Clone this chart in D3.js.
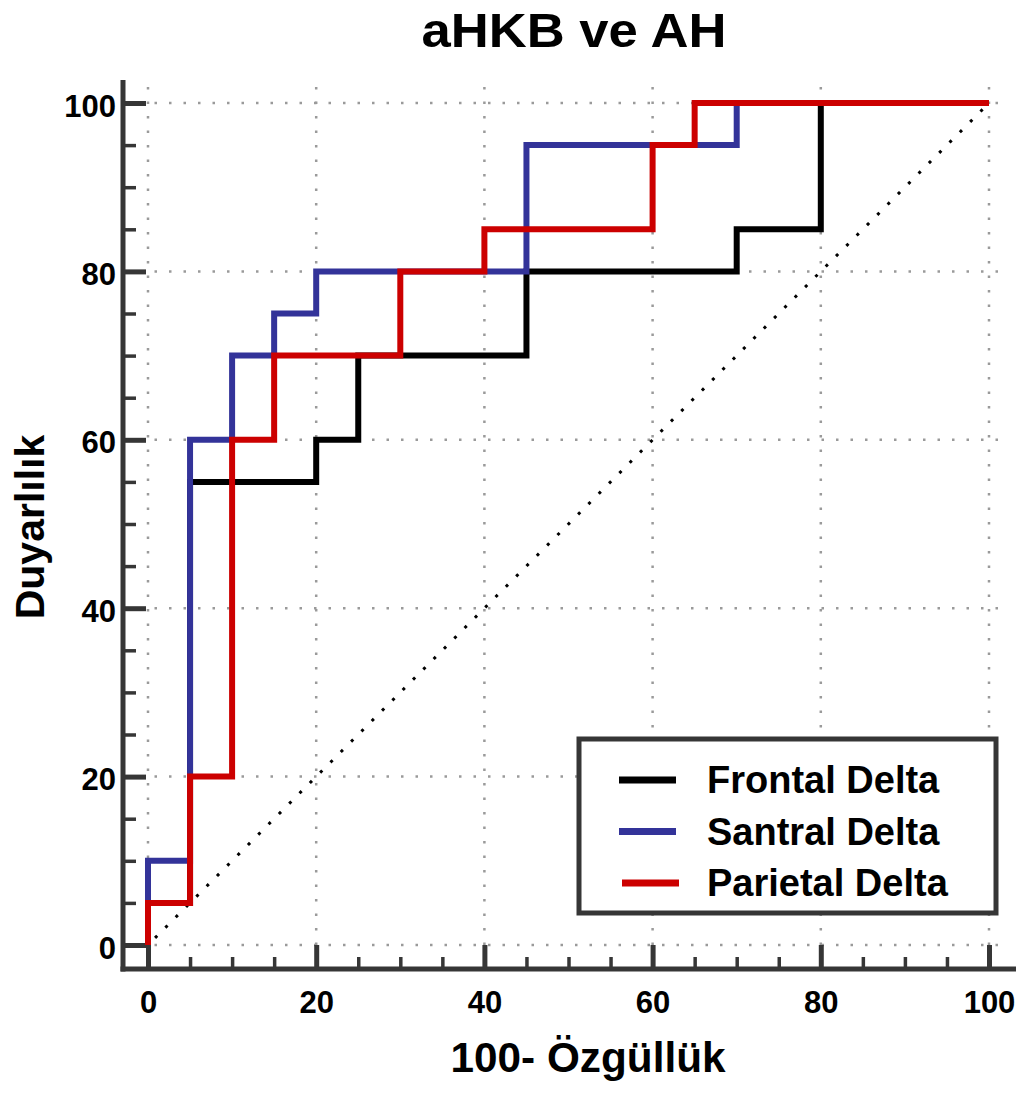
<!DOCTYPE html>
<html>
<head>
<meta charset="utf-8">
<script src="https://cdn.jsdelivr.net/npm/d3@7"></script>
<style>
  html, body { margin: 0; padding: 0; background: #fff; }
  svg { display: block; font-family: "Liberation Sans", Arial, Helvetica, sans-serif; }
</style>
</head>
<body>
<svg id="chart" width="1026" height="1093"></svg>
<script>
// ---- data ----
const titleText = "aHKB ve AH";
const xLabel = "100- Özgüllük";
const yLabel = "Duyarlılık";
const majorTicks = [0, 20, 40, 60, 80, 100];
const minorTicks = [5, 10, 15, 25, 30, 35, 45, 50, 55, 65, 70, 75, 85, 90, 95];
const seriesNames = ["Frontal Delta", "Santral Delta", "Parietal Delta"];
const seriesColors = ["#000000", "#333399", "#cc0000"];
const frontalX = [0, 0, 5, 5, 20, 20, 25, 25, 45, 45, 70, 70, 80, 80, 100];
const frontalY = [0, 5, 5, 55, 55, 60, 60, 70, 70, 80, 80, 85, 85, 100, 100];
const santralX = [0, 0, 5, 5, 10, 10, 15, 15, 20, 20, 45, 45, 70, 70, 100];
const santralY = [0, 10, 10, 60, 60, 70, 70, 75, 75, 80, 80, 95, 95, 100, 100];
const parietalX = [0, 0, 5, 5, 10, 10, 15, 15, 30, 30, 40, 40, 60, 60, 65, 65, 100];
const parietalY = [0, 5, 5, 20, 20, 60, 60, 70, 70, 80, 80, 85, 85, 95, 95, 100, 100];
const diagX = [0, 100];
const diagY = [0, 100];

// ---- layout ----
const svg = d3.select("#chart");
const x = d3.scaleLinear().domain([0, 100]).range([148, 989]);
const y = d3.scaleLinear().domain([0, 100]).range([945, 103]);
const axisX = 123, axisY = 969;
const axisColor = "#363636";

// grid
const grid = svg.append("g");
grid.selectAll(".gv").data(majorTicks).enter().append("line")
  .attr("x1", d => x(d)).attr("x2", d => x(d))
  .attr("y1", y(100) - 16).attr("y2", y(0))
  .attr("stroke", "#9a9a9a").attr("stroke-width", 2.5)
  .attr("stroke-dasharray", "2.5,12");
grid.selectAll(".gh").data(majorTicks).enter().append("line")
  .attr("y1", d => y(d)).attr("y2", d => y(d))
  .attr("x1", x(0) - 8).attr("x2", x(100) + 16)
  .attr("stroke", "#9a9a9a").attr("stroke-width", 2.5)
  .attr("stroke-dasharray", "2.5,12");

// diagonal reference
svg.append("line")
  .attr("x1", x(diagX[0])).attr("y1", y(diagY[0]))
  .attr("x2", x(diagX[1])).attr("y2", y(diagY[1]))
  .attr("stroke", "#000").attr("stroke-width", 3)
  .attr("stroke-dasharray", "3,11.6").attr("stroke-dashoffset", -10);

// axes
const xAxisMajor = d3.axisBottom(x).tickValues(majorTicks).tickSize(-24).tickPadding(22);
const xAxisMinor = d3.axisBottom(x).tickValues(minorTicks).tickSize(-12).tickFormat("");
const yAxisMajor = d3.axisLeft(y).tickValues(majorTicks).tickSize(-23).tickPadding(7);
const yAxisMinor = d3.axisLeft(y).tickValues(minorTicks).tickSize(-13).tickFormat("");

function styleAxis(g) {
  g.select(".domain").remove();
  g.selectAll("line").attr("stroke", axisColor).attr("stroke-width", 4);
  g.selectAll("text").attr("fill", "#000").attr("font-size", 31).attr("font-weight", "bold")
   .attr("font-family", "'Liberation Sans', Arial, sans-serif");
}
const gx = svg.append("g").attr("transform", `translate(0,${axisY})`);
gx.append("g").call(xAxisMinor).call(styleAxis);
gx.append("g").call(xAxisMajor).call(styleAxis);
gx.selectAll("line").attr("stroke-width", d => majorTicks.includes(d) ? 5 : 3.5);

const gy = svg.append("g").attr("transform", `translate(${axisX},0)`);
gy.append("g").call(yAxisMinor).call(styleAxis);
gy.append("g").call(yAxisMajor).call(styleAxis);
gy.selectAll("line").attr("stroke-width", d => majorTicks.includes(d) ? 5 : 3.5);
gy.selectAll("text").attr("dy", "0.42em");

// axis lines
svg.append("line").attr("x1", axisX).attr("x2", axisX)
  .attr("y1", y(100) - 23).attr("y2", axisY + 2.5)
  .attr("stroke", axisColor).attr("stroke-width", 5);
svg.append("line").attr("x1", axisX - 2.5).attr("x2", x(100) + 27)
  .attr("y1", axisY).attr("y2", axisY)
  .attr("stroke", axisColor).attr("stroke-width", 5);

// ROC step curves
const line = d3.line().x(d => x(d[0])).y(d => y(d[1]));
const seriesData = [
  d3.zip(frontalX, frontalY),
  d3.zip(santralX, santralY),
  d3.zip(parietalX, parietalY)
];
svg.append("g").selectAll("path").data(seriesData).enter().append("path")
  .attr("d", line)
  .attr("fill", "none")
  .attr("stroke", (d, i) => seriesColors[i])
  .attr("stroke-width", 6)
  .attr("stroke-linejoin", "miter");

// legend
const lg = svg.append("g");
lg.append("rect").attr("x", 579).attr("y", 739).attr("width", 417).attr("height", 174)
  .attr("fill", "#fff").attr("stroke", axisColor).attr("stroke-width", 5);
seriesNames.forEach((name, i) => {
  const cy = 780 + i * 51.5;
  lg.append("line").attr("x1", 619 + (i === 2 ? 3 : 0)).attr("x2", 676 + (i === 2 ? 3 : 0))
    .attr("y1", cy).attr("y2", cy)
    .attr("stroke", seriesColors[i]).attr("stroke-width", 7);
  lg.append("text").attr("x", 707).attr("y", cy + 13)
    .attr("font-size", 38).attr("font-weight", "bold").attr("fill", "#000")
    .text(name);
});

// titles
svg.append("text").attr("x", 574).attr("y", 47)
  .attr("text-anchor", "middle").attr("font-size", 48).attr("font-weight", "bold")
  .attr("textLength", 305).attr("lengthAdjust", "spacingAndGlyphs")
  .text(titleText);
svg.append("text").attr("x", 588).attr("y", 1072)
  .attr("text-anchor", "middle").attr("font-size", 42).attr("font-weight", "bold")
  .attr("textLength", 275).attr("lengthAdjust", "spacingAndGlyphs")
  .text(xLabel);
svg.append("text").attr("transform", "translate(44,527) rotate(-90)")
  .attr("text-anchor", "middle").attr("font-size", 41).attr("font-weight", "bold")
  .text(yLabel);
</script>
</body>
</html>
